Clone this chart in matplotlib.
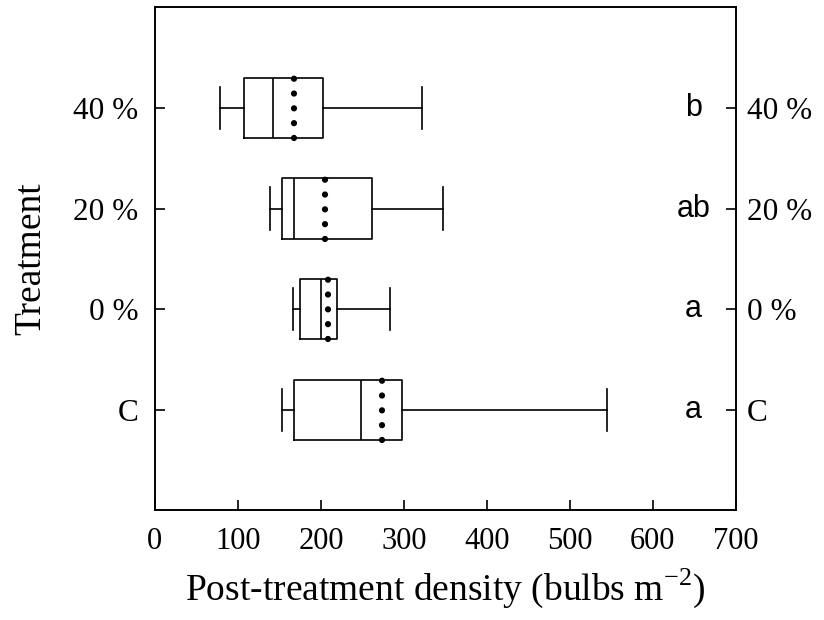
import matplotlib
matplotlib.use("Agg")
import matplotlib.pyplot as plt

# treatment groups, bottom to top
categories = ["C", "0 %", "20 %", "40 %"]
whisker_low = [153, 166, 139, 78]
q1 = [168, 175, 153, 107]
median = [248, 200, 168, 142]
mean = [274, 208, 205, 168]
q3 = [298, 219, 262, 202]
whisker_high = [545, 283, 347, 322]
letters = ["a", "a", "ab", "b"]

SERIF = "Liberation Serif"
SANS = "Liberation Sans"

plt.rcParams["mathtext.fontset"] = "custom"
plt.rcParams["mathtext.rm"] = SERIF

stats = []
for i, cat in enumerate(categories):
    stats.append({
        "label": cat,
        "whislo": whisker_low[i],
        "q1": q1[i],
        "med": median[i],
        "mean": mean[i],
        "q3": q3[i],
        "whishi": whisker_high[i],
        "fliers": [],
    })

positions = list(range(1, len(categories) + 1))

fig = plt.figure(figsize=(8.24, 6.2), dpi=100)
ax = fig.add_axes([0.188, 0.177, 0.705, 0.811])

line = dict(color="black", linewidth=1.2)
ax.bxp(
    stats,
    positions=positions,
    vert=False,
    widths=0.6,
    capwidths=0.42,
    showmeans=True,
    meanline=True,
    showfliers=False,
    boxprops=line,
    whiskerprops=line,
    capprops=line,
    medianprops=line,
    meanprops=dict(color="black", linewidth=4.5,
                   linestyle=(0, (0.01, 2.36)), dash_capstyle="round"),
)

for pos, letter in zip(positions, letters):
    ax.text(649, pos, letter, ha="center", va="center",
            fontsize=22, family=SANS)

ax.set_xlim(0, 700)
ax.set_ylim(0, 5)
ax.set_xticks(range(0, 701, 100))
ax.set_yticks(positions)
ax.set_yticklabels(categories, family=SERIF, fontsize=22.5)
for lbl in ax.get_xticklabels():
    lbl.set_family(SERIF)
    lbl.set_fontsize(22)

ax.tick_params(axis="both", direction="in", length=7, width=1.2)
ax.tick_params(axis="x", pad=12)
ax.tick_params(axis="y", pad=12)

ax2 = ax.twinx()
ax2.set_ylim(ax.get_ylim())
ax2.set_yticks(positions)
ax2.set_yticklabels(categories, family=SERIF, fontsize=22.5)
ax2.tick_params(axis="y", direction="in", length=7, width=1.2, pad=8)

for a in (ax, ax2):
    for sp in a.spines.values():
        sp.set_linewidth(1.2)

ax.set_xlabel(r"Post-treatment density (bulbs m$^{\mathrm{-2}}$)", family=SERIF,
              fontsize=27, labelpad=8)
ax.set_ylabel("Treatment", family=SERIF, fontsize=27, labelpad=18)

fig.savefig("out.png", dpi=100)
